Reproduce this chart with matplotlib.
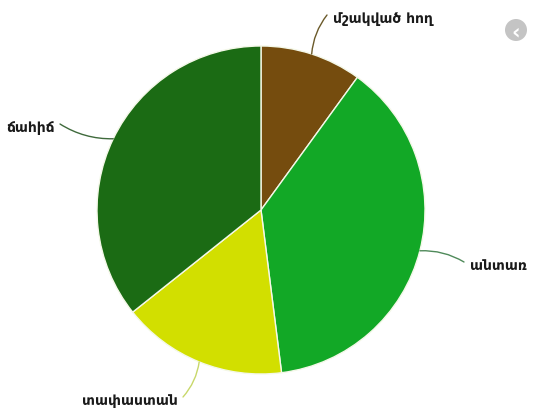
import numpy as np
from matplotlib import pyplot as plt
from matplotlib.patches import Circle

# Հողային ծածկույթի բաժինները (% , գնահատված նկարից)
labels = ['մշակված հող', 'անտառ', 'տափաստան', 'ճահիճ']
values = [10.0, 38.0, 16.3, 35.7]
colors = ['#754c0e', '#12a826', '#d2df00', '#1b6b14']
line_colors = ['#6b5a2a', '#4f8a5a', '#c8d86a', '#3f6a3c']

# Պիտակների դիրքերը (պիքսելներով՝ վերևից)
label_pos = [(333, 19), (470, 266), (178, 401), (55, 128)]
label_ha = ['left', 'left', 'right', 'right']

W, H = 535, 410
cx, cy, R = 261, 211, 164

fig = plt.figure(figsize=(W / 100, H / 100), dpi=100)
ax = fig.add_axes([0, 0, 1, 1])

wedges, _ = ax.pie(values, colors=colors, startangle=90, counterclock=False,
                   center=(cx, H - cy), radius=R,
                   wedgeprops=dict(edgecolor='#f4f8e8', linewidth=1.0))
ax.set_xlim(0, W)
ax.set_ylim(0, H)
ax.axis('off')

for w, lab, (lx, ly), ha, col in zip(wedges, labels, label_pos, label_ha, line_colors):
    ang = np.deg2rad((w.theta1 + w.theta2) / 2)
    px = cx + R * np.cos(ang)
    py = H - cy + R * np.sin(ang)
    ex = lx - 6 if ha == 'left' else lx + 5
    ey = H - ly + 3
    ax.annotate('', xy=(px, py), xytext=(ex, ey),
                arrowprops=dict(arrowstyle='-', color=col, lw=1.0,
                                connectionstyle='arc3,rad=0.15',
                                shrinkA=0, shrinkB=0))
    ax.text(lx, H - ly, lab, ha=ha, va='center', fontsize=10,
            fontweight='bold', color='#1a1a1a', family='DejaVu Sans')

# կոճակը վերին աջ անկյունում
ax.add_patch(Circle((516, H - 31), 11, color='#c4c4c4', lw=0))
ax.text(516, H - 32, '‹', ha='center', va='center', fontsize=15,
        fontweight='bold', color='white')

fig.savefig('out.png', dpi=100)
